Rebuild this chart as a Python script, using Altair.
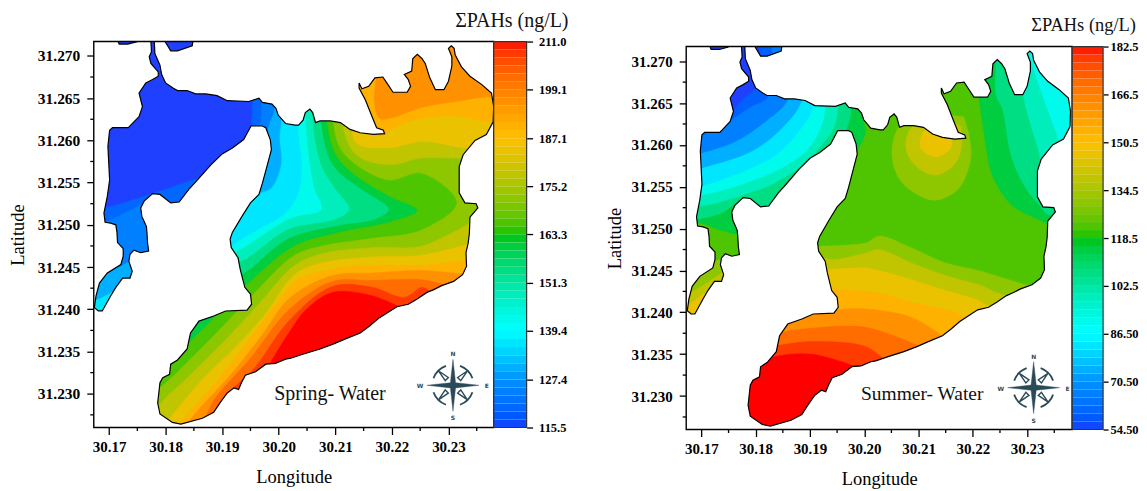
import altair as alt
import pandas as pd

E, W, S, N = 30.25, 30.16, 31.222, 31.275

lake_main = [
 (30.1780,31.2717),(30.1781,31.2703),(30.1790,31.2689),(30.1793,31.2678),(30.1800,31.2668),(30.1813,31.2662),(30.1821,31.2659),
 (30.1838,31.2659),(30.1853,31.2655),(30.1871,31.2655),(30.1891,31.2653),(30.1909,31.2647),(30.1947,31.2646),(30.1965,31.2650),
 (30.1971,31.2645),(30.1988,31.2643),(30.1995,31.2638),(30.1999,31.2630),(30.2012,31.2620),(30.2029,31.2618),(30.2035,31.2618),
 (30.2043,31.2624),(30.2047,31.2633),(30.2055,31.2637),(30.2060,31.2633),(30.2065,31.2621),(30.2073,31.2623),(30.2091,31.2623),
 (30.2109,31.2621),(30.2126,31.2613),(30.2144,31.2609),(30.2167,31.2607),(30.2187,31.2608),(30.2185,31.2612),(30.2173,31.2615),
 (30.2165,31.2628),(30.2153,31.2648),(30.2142,31.2662),(30.2142,31.2668),(30.2147,31.2661),(30.2159,31.2664),(30.2170,31.2674),
 (30.2184,31.2675),(30.2191,31.2668),(30.2202,31.2657),(30.2227,31.2657),(30.2233,31.2664),(30.2229,31.2672),(30.2222,31.2678),
 (30.2235,31.2682),(30.2237,31.2697),(30.2245,31.2702),(30.2253,31.2697),(30.2259,31.2691),(30.2267,31.2674),(30.2277,31.2660),
 (30.2292,31.2660),(30.2300,31.2670),(30.2306,31.2688),(30.2306,31.2699),(30.2300,31.2709),(30.2305,31.2712),(30.2310,31.2709),
 (30.2312,31.2701),(30.2323,31.2687),(30.2338,31.2676),(30.2359,31.2666),(30.2376,31.2656),(30.2380,31.2640),(30.2379,31.2622),
 (30.2367,31.2607),(30.2347,31.2600),(30.2326,31.2583),(30.2319,31.2569),(30.2319,31.2538),(30.2329,31.2526),(30.2349,31.2525),
 (30.2352,31.2520),(30.2338,31.2509),(30.2337,31.2490),(30.2335,31.2479),(30.2331,31.2467),(30.2332,31.2451),(30.2325,31.2441),
 (30.2309,31.2433),(30.2288,31.2428),(30.2273,31.2423),(30.2262,31.2420),(30.2244,31.2412),(30.2229,31.2406),(30.2209,31.2403),
 (30.2197,31.2398),(30.2176,31.2389),(30.2160,31.2380),(30.2144,31.2372),(30.2118,31.2365),(30.2097,31.2359),(30.2073,31.2353),
 (30.2044,31.2347),(30.2021,31.2342),(30.2012,31.2341),(30.1994,31.2336),(30.1977,31.2335),(30.1959,31.2326),(30.1941,31.2322),
 (30.1934,31.2313),(30.1929,31.2305),(30.1921,31.2307),(30.1909,31.2301),(30.1897,31.2290),(30.1885,31.2278),(30.1865,31.2271),
 (30.1827,31.2264),(30.1812,31.2266),(30.1790,31.2276),(30.1786,31.2289),(30.1790,31.2313),(30.1795,31.2319),(30.1807,31.2323),
 (30.1809,31.2335),(30.1821,31.2340),(30.1838,31.2353),(30.1844,31.2372),(30.1859,31.2386),(30.1885,31.2392),(30.1906,31.2398),
 (30.1944,31.2399),(30.1952,31.2406),(30.1950,31.2418),(30.1940,31.2426),(30.1932,31.2447),(30.1928,31.2461),(30.1916,31.2473),
 (30.1914,31.2483),(30.1918,31.2491),(30.1935,31.2510),(30.1950,31.2526),(30.1965,31.2536),(30.1971,31.2549),(30.1979,31.2569),
 (30.1987,31.2589),(30.1985,31.2601),(30.1977,31.2615),(30.1971,31.2617),(30.1951,31.2617),(30.1938,31.2601),(30.1918,31.2591),
 (30.1900,31.2584),(30.1880,31.2571),(30.1856,31.2553),(30.1841,31.2542),(30.1824,31.2527),(30.1809,31.2526),(30.1790,31.2536),
 (30.1777,31.2537),(30.1762,31.2528),(30.1756,31.2520),(30.1758,31.2510),(30.1766,31.2498),(30.1767,31.2491),(30.1768,31.2479),
 (30.1770,31.2469),(30.1756,31.2467),(30.1744,31.2470),(30.1737,31.2465),(30.1735,31.2457),(30.1741,31.2445),(30.1737,31.2437),
 (30.1724,31.2437),(30.1712,31.2426),(30.1703,31.2416),(30.1688,31.2398),(30.1681,31.2398),(30.1674,31.2402),(30.1677,31.2416),
 (30.1683,31.2431),(30.1697,31.2443),(30.1721,31.2453),(30.1725,31.2463),(30.1725,31.2472),(30.1715,31.2479),(30.1714,31.2491),
 (30.1712,31.2500),(30.1703,31.2502),(30.1693,31.2503),(30.1691,31.2514),(30.1697,31.2534),(30.1701,31.2553),(30.1698,31.2593),
 (30.1701,31.2612),(30.1706,31.2615),(30.1734,31.2615),(30.1753,31.2628),(30.1759,31.2640),(30.1753,31.2656),(30.1765,31.2668),
 (30.1777,31.2672),(30.1787,31.2676),(30.1787,31.2681),(30.1774,31.2691),(30.1771,31.2699),(30.1775,31.2705),(30.1774,31.2717),
]
lake_blob_a = [(30.1750,31.2717),(30.1733,31.2714),(30.1718,31.2714),(30.1716,31.2717)]
lake_blob_b = [(30.1848,31.2717),(30.1847,31.2712),(30.1821,31.2706),(30.1809,31.2706),(30.1799,31.2717)]

spring_bands = [
 (115.5,[(W,S),(W,N),(E,N),(E,S)]),
 (120.5,[(30.1954,N),(30.1954,31.2646),(30.1951,31.2617),(30.1940,31.2591),(30.1887,31.2532),(30.1808,31.2449),(30.1755,31.2390),(30.1720,31.2249),(E,S),(E,N)]),
 (120.5,[(30.1861,31.2556),(30.1694,31.2520),(30.1659,31.2517),(30.1650,31.2367),(30.1808,31.2390),(30.1861,31.2532)]),
 (124.4,[(30.1970,N),(30.1970,31.2645),(30.1967,31.2617),(30.1949,31.2591),(30.1887,31.2526),(30.1808,31.2443),(30.1755,31.2385),(30.1720,31.2249),(E,S),(E,N)]),
 (124.4,[(30.1773,31.2537),(30.1764,31.2528),(30.1690,31.2502),(30.1659,31.2493),(30.1650,31.2367),(30.1808,31.2390),(30.1808,31.2514)]),
 (130.4,[(30.1993,N),(30.1993,31.2638),(30.1984,31.2620),(30.1976,31.2603),(30.1949,31.2585),(30.1887,31.2520),(30.1808,31.2443),(30.1755,31.2385),(30.1720,31.2249),(E,S),(E,N)]),
 (130.4,[(30.1808,31.2485),(30.1773,31.2471),(30.1729,31.2454),(30.1676,31.2435),(30.1659,31.2428),(30.1650,31.2367),(30.1808,31.2379)]),
 (136.4,[(30.2005,N),(30.2005,31.2624),(30.2002,31.2603),(30.2005,31.2573),(30.1988,31.2544),(30.1970,31.2538),(30.1931,31.2526),(30.1887,31.2503),(30.1808,31.2437),(30.1755,31.2379),(30.1720,31.2249),(E,S),(E,N)]),
 (136.4,[(30.1773,31.2449),(30.1738,31.2432),(30.1694,31.2416),(30.1659,31.2402),(30.1650,31.2367),(30.1773,31.2367)]),
 (142.3,[(30.2034,N),(30.2034,31.2621),(30.2041,31.2567),(30.2035,31.2538),(30.2011,31.2513),(30.1963,31.2494),(30.1924,31.2478),(30.1905,31.2467),(30.1843,31.2414),(30.1755,31.2373),(30.1720,31.2249),(E,S),(E,N)]),
 (148.3,[(30.2048,N),(30.2048,31.2626),(30.2056,31.2570),(30.2063,31.2544),(30.2076,31.2518),(30.2019,31.2507),(30.1949,31.2477),(30.1917,31.2463),(30.1861,31.2414),(30.1764,31.2373),(30.1720,31.2249),(E,S),(E,N)]),
 (154.3,[(30.2060,N),(30.2060,31.2626),(30.2076,31.2570),(30.2099,31.2544),(30.2125,31.2518),(30.2099,31.2506),(30.2019,31.2495),(30.1949,31.2462),(30.1923,31.2452),(30.1879,31.2414),(30.1764,31.2367),(30.1720,31.2249),(E,S),(E,N)]),
 (160.3,[(30.2074,N),(30.2074,31.2626),(30.2097,31.2570),(30.2143,31.2544),(30.2195,31.2518),(30.2169,31.2506),(30.2107,31.2499),(30.2019,31.2484),(30.1949,31.2447),(30.1923,31.2435),(30.1887,31.2408),(30.1773,31.2367),(30.1720,31.2249),(E,S),(E,N)]),
 (166.2,[(30.2085,N),(30.2085,31.2626),(30.2102,31.2582),(30.2137,31.2558),(30.2195,31.2534),(30.2245,31.2517),(30.2195,31.2503),(30.2107,31.2491),(30.2028,31.2475),(30.1953,31.2435),(30.1865,31.2376),(30.1805,31.2337),(30.1773,31.2314),(30.1738,31.2249),(E,S),(E,N)]),
 (172.2,[(30.2095,N),(30.2095,31.2632),(30.2107,31.2593),(30.2137,31.2571),(30.2195,31.2553),(30.2253,31.2561),(30.2315,31.2526),(30.2253,31.2494),(30.2165,31.2484),(30.2077,31.2475),(30.2028,31.2464),(30.1958,31.2420),(30.1887,31.2370),(30.1817,31.2323),(30.1773,31.2294),(30.1747,31.2249),(E,S),(E,N)]),
 (178.2,[(30.2340,31.2503),(30.2253,31.2475),(30.2165,31.2473),(30.2077,31.2466),(30.2028,31.2452),(30.1967,31.2408),(30.1905,31.2363),(30.1843,31.2322),(30.1782,31.2281),(30.1764,31.2249),(E,S),(E,31.2503)]),
 (178.2,[(30.2113,N),(30.2113,31.2618),(30.2137,31.2583),(30.2195,31.2571),(30.2253,31.2579),(30.2324,31.2579),(30.2389,31.2582),(E,31.2582),(E,N)]),
 (184.1,[(30.2345,31.2479),(30.2253,31.2464),(30.2165,31.2462),(30.2077,31.2455),(30.2028,31.2441),(30.1975,31.2393),(30.1923,31.2355),(30.1861,31.2314),(30.1799,31.2263),(30.1782,31.2243),(E,S),(E,31.2479)]),
 (184.1,[(30.2129,N),(30.2129,31.2620),(30.2137,31.2597),(30.2195,31.2591),(30.2253,31.2599),(30.2331,31.2591),(30.2389,31.2593),(E,31.2593),(E,N)]),
 (190.1,[(30.2336,31.2458),(30.2253,31.2452),(30.2165,31.2452),(30.2107,31.2449),(30.2055,31.2441),(30.2028,31.2432),(30.1988,31.2400),(30.1953,31.2369),(30.1893,31.2317),(30.1826,31.2266),(30.1808,31.2249),(E,S),(E,31.2458)]),
 (190.1,[(30.2134,N),(30.2134,31.2679),(30.2157,31.2617),(30.2178,31.2605),(30.2208,31.2617),(30.2253,31.2626),(30.2313,31.2629),(30.2378,31.2621),(30.2407,31.2621),(E,31.2621),(E,N)]),
 (196.1,[(30.2322,31.2442),(30.2253,31.2446),(30.2165,31.2443),(30.2095,31.2440),(30.2019,31.2413),(30.1970,31.2369),(30.1917,31.2324),(30.1847,31.2272),(30.1826,31.2249),(E,S),(E,31.2442)]),
 (196.1,[(30.2174,N),(30.2174,31.2685),(30.2169,31.2648),(30.2178,31.2626),(30.2195,31.2626),(30.2253,31.2639),(30.2313,31.2646),(30.2375,31.2652),(E,31.2652),(E,N)]),
 (202.0,[(30.2292,31.2429),(30.2253,31.2435),(30.2165,31.2434),(30.2095,31.2433),(30.2019,31.2400),(30.1949,31.2341),(30.1887,31.2294),(30.1870,31.2272),(30.1843,31.2243),(E,S),(E,31.2429)]),
 (208.0,[(30.2266,31.2422),(30.2253,31.2426),(30.2222,31.2414),(30.2165,31.2426),(30.2095,31.2427),(30.2019,31.2387),(30.1958,31.2331),(30.1905,31.2294),(30.1887,31.2243),(E,S),(E,31.2422)]),
 (211.0,[(30.2222,31.2400),(30.2165,31.2416),(30.2095,31.2420),(30.2049,31.2400),(30.2019,31.2373),(30.1981,31.2331),(30.1958,31.2296),(30.1932,31.2243),(E,S),(E,31.2400)]),
]

summer_bands = [
 (54.5,[(W,S),(W,N),(E,N),(E,S)]),
 (60.0,[(30.1803,N),(30.1803,31.2673),(30.1770,31.2650),(30.1736,31.2626),(30.1696,31.2626),(30.1659,31.2626),(W,31.2626),(W,S),(E,S),(E,N)]),
 (66.5,[(30.1825,N),(30.1825,31.2659),(30.1788,31.2644),(30.1746,31.2626),(30.1696,31.2610),(30.1668,31.2604),(W,31.2604),(W,S),(E,S),(E,N)]),
 (74.5,[(30.1861,N),(30.1861,31.2656),(30.1819,31.2628),(30.1764,31.2604),(30.1702,31.2590),(30.1668,31.2584),(W,31.2584),(W,S),(E,S),(E,N)]),
 (82.5,[(30.1885,N),(30.1885,31.2653),(30.1849,31.2620),(30.1793,31.2592),(30.1702,31.2572),(30.1668,31.2566),(W,31.2566),(W,S),(E,S),(E,N)]),
 (90.5,[(30.1907,N),(30.1907,31.2647),(30.1880,31.2616),(30.1838,31.2588),(30.1782,31.2569),(30.1709,31.2552),(30.1668,31.2546),(W,31.2546),(W,S),(E,S),(E,N)]),
 (98.5,[(30.1929,N),(30.1929,31.2646),(30.1922,31.2623),(30.1893,31.2592),(30.1843,31.2570),(30.1782,31.2554),(30.1733,31.2544),(30.1696,31.2539),(30.1668,31.2534),(W,31.2534),(W,S),(E,S),(E,31.2604),(30.2361,31.2604),(30.2352,31.2616),(30.2336,31.2644),(30.2315,31.2683),(30.2303,31.2711),(30.2303,N)]),
 (106.5,[(30.1953,N),(30.1953,31.2647),(30.1944,31.2620),(30.1917,31.2596),(30.1880,31.2572),(30.1825,31.2551),(30.1782,31.2541),(30.1733,31.2531),(30.1687,31.2525),(30.1668,31.2522),(W,31.2522),(W,S),(E,S),(E,31.2581),(30.2326,31.2581),(30.2321,31.2592),(30.2297,31.2644),(30.2290,31.2664),(30.2288,31.2667),(30.2288,N)]),
 (114.5,[(30.1977,N),(30.1977,31.2646),(30.1972,31.2626),(30.1962,31.2611),(30.1950,31.2596),(30.1880,31.2548),(30.1825,31.2519),(30.1779,31.2533),(30.1733,31.2517),(30.1687,31.2510),(30.1659,31.2507),(W,31.2507),(W,S),(E,S),(E,31.2516),(30.2339,31.2516),(30.2326,31.2525),(30.2297,31.2548),(30.2271,31.2584),(30.2253,31.2644),(30.2242,31.2659),(30.2242,31.2703),(30.2242,N)]),
 (122.5,[(30.1996,N),(30.1996,31.2646),(30.1996,31.2635),(30.2003,31.2616),(30.1990,31.2596),(30.1953,31.2566),(30.1825,31.2489),(30.1779,31.2491),(30.1738,31.2497),(30.1696,31.2506),(30.1659,31.2503),(W,31.2503),(W,S),(E,S),(E,31.2504),(30.2343,31.2504),(30.2326,31.2509),(30.2271,31.2528),(30.2235,31.2564),(30.2224,31.2596),(30.2216,31.2632),(30.2211,31.2656),(30.2211,31.2673),(30.2211,N)]),
 (130.5,[(30.2128,31.2638),(30.2069,31.2626),(30.2051,31.2592),(30.2064,31.2560),(30.2100,31.2540),(30.2132,31.2534),(30.2174,31.2548),(30.2196,31.2584),(30.2192,31.2614),(30.2183,31.2634)]),
 (130.5,[(30.1917,31.2479),(30.2003,31.2483),(30.2027,31.2491),(30.2087,31.2477),(30.2150,31.2459),(30.2211,31.2450),(30.2271,31.2438),(30.2308,31.2432),(E,31.2432),(E,S),(30.1733,31.2245),(30.1806,31.2382),(30.1898,31.2441)]),
 (130.5,[(30.1779,31.2471),(30.1733,31.2463),(30.1696,31.2451),(30.1659,31.2439),(30.1632,31.2358),(30.1788,31.2382)]),
 (138.5,[(30.2128,31.2644),(30.2082,31.2616),(30.2078,31.2592),(30.2100,31.2572),(30.2132,31.2564),(30.2165,31.2576),(30.2179,31.2596),(30.2178,31.2622)]),
 (138.5,[(30.1926,31.2465),(30.1944,31.2463),(30.2003,31.2471),(30.2027,31.2475),(30.2087,31.2459),(30.2150,31.2444),(30.2211,31.2433),(30.2262,31.2420),(E,31.2420),(E,S),(30.1733,31.2245),(30.1806,31.2382),(30.1898,31.2435)]),
 (138.5,[(30.1751,31.2453),(30.1696,31.2429),(30.1659,31.2414),(30.1632,31.2358),(30.1779,31.2370)]),
 (146.5,[(30.2132,31.2638),(30.2106,31.2611),(30.2104,31.2596),(30.2132,31.2586),(30.2159,31.2596),(30.2161,31.2614)]),
 (146.5,[(30.1931,31.2451),(30.2003,31.2453),(30.2027,31.2450),(30.2087,31.2439),(30.2150,31.2426),(30.2211,31.2414),(30.2235,31.2406),(E,31.2406),(E,S),(30.1733,31.2245),(30.1806,31.2382),(30.1898,31.2429)]),
 (146.5,[(30.1705,31.2423),(30.1678,31.2409),(30.1650,31.2394),(30.1632,31.2358),(30.1770,31.2364)]),
 (154.5,[(30.1944,31.2427),(30.2027,31.2423),(30.2087,31.2412),(30.2168,31.2400),(30.2179,31.2396),(E,31.2396),(E,S),(30.1733,31.2245),(30.1806,31.2382),(30.1898,31.2417)]),
 (162.5,[(30.2143,31.2372),(30.2087,31.2394),(30.2003,31.2404),(30.1953,31.2403),(30.1904,31.2396),(30.1874,31.2391),(30.1852,31.2388),(30.1806,31.2382),(30.1733,31.2245),(E,S),(E,31.2372)]),
 (170.5,[(30.2100,31.2360),(30.2003,31.2382),(30.1904,31.2381),(30.1847,31.2376),(30.1815,31.2370),(30.1770,31.2358),(30.1733,31.2245),(E,S),(E,31.2360)]),
 (178.5,[(30.2036,31.2344),(30.2003,31.2359),(30.1904,31.2365),(30.1839,31.2360),(30.1806,31.2356),(30.1760,31.2346),(30.1733,31.2245),(E,S),(E,31.2344)]),
 (182.5,[(30.1977,31.2337),(30.1904,31.2350),(30.1843,31.2348),(30.1806,31.2340),(30.1760,31.2328),(30.1733,31.2245),(E,S),(E,31.2337)]),
]

spring_ticks = [115.5, 127.4, 139.4, 151.3, 163.3, 175.2, 187.1, 199.1, 211.0]
summer_ticks = [54.5, 70.5, 86.5, 102.5, 118.5, 134.5, 150.5, 166.5, 182.5]
lon_major = [30.17, 30.18, 30.19, 30.20, 30.21, 30.22, 30.23]
lon_minor = [30.175, 30.185, 30.195, 30.205, 30.215, 30.225, 30.235]
lat_major = [31.23, 31.235, 31.24, 31.245, 31.25, 31.255, 31.26, 31.265, 31.27]
lat_minor = [31.2275, 31.2325, 31.2375, 31.2425, 31.2475, 31.2525, 31.2575, 31.2625, 31.2675]
RAMP = ["#2040ff", "#1a90ff", "#1affff", "#00c400", "#ffc000", "#ff0000"]
SERIF = "Liberation Serif"
INK = "#2b4a58"
STAR = "M0,-1L.1,-.1L1,0L.1,.1L0,1L-.1,.1L-1,0L-.1,-.1Z"
KITES = "M.18,-.3L.55,-.55L.3,-.18Z M.18,.3L.55,.55L.3,.18Z M-.18,.3L-.55,.55L-.3,.18Z M-.18,-.3L-.55,-.55L-.3,-.18Z"
RING = "M.27,-.75A.8,.8 0 0 1 .75,-.27 M.75,.27A.8,.8 0 0 1 .27,.75 M-.27,.75A.8,.8 0 0 1 -.75,.27 M-.75,-.27A.8,.8 0 0 1 -.27,-.75"


def table(paths):
    rows = []
    for p, (v, pts) in enumerate(paths):
        for i, (lon, lat) in enumerate(pts):
            rows.append({"lon": lon, "lat": lat, "v": v, "poly": p, "i": i})
    return pd.DataFrame(rows)


def panel(bands, ticks, xdom, ydom, w, h, top, label, label_lon, label_lat, label_size, comp_lon, comp_lat, lab_size, title_pad):
    xs = alt.Scale(domain=xdom, nice=False, zero=False)
    ys = alt.Scale(domain=ydom, nice=False, zero=False, range=[h + top, top])
    anchors = [ticks[0], ticks[1], ticks[2], ticks[4], ticks[6], ticks[8]]
    cs = alt.Scale(domain=anchors, range=RAMP, clamp=True)
    xa = alt.Axis(values=lon_major, format=".2f", grid=False, domain=False, tickColor="black", tickWidth=1.3, tickSize=7,
                  labelFont=SERIF, labelFontWeight="bold", labelFontSize=15, labelColor="black", labelPadding=5, labelOverlap=False,
                  title="Longitude", titleFont=SERIF, titleFontWeight="normal", titleFontSize=18.5, titleColor="black", titlePadding=13)
    ya = alt.Axis(values=lat_major, format=".3f", grid=False, domain=False, tickColor="black", tickWidth=1.3, tickSize=7,
                  labelFont=SERIF, labelFontWeight="bold", labelFontSize=lab_size, labelColor="black", labelPadding=7, labelOverlap=False,
                  title="Latitude", titleFont=SERIF, titleFontWeight="normal", titleFontSize=18.5, titleColor="black", titlePadding=title_pad)
    X = alt.X("lon:Q", scale=xs, axis=xa)
    Y = alt.Y("lat:Q", scale=ys, axis=ya)

    fill_layer = alt.Chart(table(bands)).mark_line(interpolate="catmull-rom", clip=True, strokeWidth=0.5).encode(
        x=X, y=Y, order="i:Q", detail="poly:N",
        fill=alt.Fill("v:Q", scale=cs, legend=None), stroke=alt.Stroke("v:Q", scale=cs, legend=None))

    TOPOUT = 31.28
    mask_pts = ([(30.26, TOPOUT), (lake_blob_b[0][0], TOPOUT)] + lake_blob_b + [(lake_blob_b[-1][0], TOPOUT),
                (lake_main[0][0], TOPOUT)] + lake_main + [(lake_main[-1][0], TOPOUT), (lake_blob_a[0][0], TOPOUT)] +
                lake_blob_a + [(lake_blob_a[-1][0], TOPOUT), (30.15, TOPOUT), (30.15, 31.21), (30.26, 31.21)])
    mask = alt.Chart(table([(0, mask_pts)])).mark_line(interpolate="linear", clip=True, strokeWidth=0).encode(
        x=X, y=Y, order="i:Q", fill=alt.value("white"))
    strip = alt.Chart(pd.DataFrame({"a": [0]})).mark_rect(fill="white", stroke=None).encode(
        x=alt.value(-1), x2=alt.value(w + 1), y=alt.value(-1), y2=alt.value(top))
    shore = alt.Chart(table([(0, lake_main), (1, lake_blob_a), (2, lake_blob_b)])).mark_line(
        interpolate="linear", clip=True, strokeWidth=1.2, color="black").encode(x=X, y=Y, order="i:Q", detail="poly:N")

    tx = alt.Chart(pd.DataFrame({"lon": lon_minor})).mark_rule(color="black", strokeWidth=1.3).encode(
        x=X, y=alt.value(h + top), y2=alt.value(h + top + 3.5))
    ty = alt.Chart(pd.DataFrame({"lat": lat_minor})).mark_rule(color="black", strokeWidth=1.3).encode(
        y=Y, x=alt.value(-3.5), x2=alt.value(0))
    frame = alt.Chart(pd.DataFrame({"a": [0]})).mark_rect(filled=False, stroke="black", strokeWidth=1.4).encode(
        x=alt.value(0), x2=alt.value(w), y=alt.value(top), y2=alt.value(h + top))
    text = alt.Chart(pd.DataFrame({"lon": [label_lon], "lat": [label_lat], "t": [label]})).mark_text(
        font=SERIF, fontSize=label_size, align="left", baseline="alphabetic", color="#111").encode(x=X, y=Y, text="t:N")
    c = pd.DataFrame({"lon": [comp_lon], "lat": [comp_lat]})
    star = alt.Chart(c).mark_point(shape=STAR, size=2704, filled=True, fill=INK, stroke=INK, strokeWidth=0.4, opacity=1).encode(x=X, y=Y)
    kites = alt.Chart(c).mark_point(shape=KITES, size=2704, filled=False, stroke=INK, strokeWidth=1.4, opacity=1).encode(x=X, y=Y)
    ring = alt.Chart(c).mark_point(shape=RING, size=2704, filled=False, stroke=INK, strokeWidth=1.8, opacity=1).encode(x=X, y=Y)
    letters = []
    for t, dx, dy in [("N", 0, -31), ("S", 0, 33), ("W", -33, 1), ("E", 34, 1)]:
        letters.append(alt.Chart(c).mark_text(text=t, fontSize=6, fontWeight="bold", font="DejaVu Sans", color=INK, dx=dx, dy=dy).encode(x=X, y=Y))
    main = alt.layer(fill_layer, mask, strip, shore, tx, ty, text, ring, kites, star, *letters, frame).properties(width=w, height=h + top)
    return main, cs


def colorbar(ticks, cs, w, h, top, title, title_x, title_y, title_size, tick_size, lab_pad):
    low, high, mid = [], [], []
    for a, b in zip(ticks[:-1], ticks[1:]):
        step = (b - a) / 6
        for k in range(6):
            low.append(a + k * step)
            high.append(a + (k + 1) * step)
            mid.append(a + (k + 0.5) * step)
    ys = alt.Scale(domain=[ticks[0], ticks[-1]], nice=False, zero=False, range=[h + top, top])
    axis = alt.Axis(values=ticks, format=".4r", orient="right", grid=False, domain=False, tickColor="black", tickWidth=1.3, tickSize=tick_size,
                    labelFont=SERIF, labelFontWeight="bold", labelFontSize=12.5, labelColor="black", labelPadding=lab_pad, labelOverlap=False,
                    labelFlush=False, title=None)
    bar = alt.Chart(pd.DataFrame({"a": low, "b": high, "m": mid})).mark_rect().encode(
        y=alt.Y("a:Q", scale=ys, axis=axis), y2="b:Q", x=alt.value(0), x2=alt.value(w),
        fill=alt.Fill("m:Q", scale=cs, legend=None))
    box = alt.Chart(pd.DataFrame({"a": [0]})).mark_rect(filled=False, stroke="#333", strokeWidth=1.2).encode(
        x=alt.value(0), x2=alt.value(w), y=alt.value(top), y2=alt.value(h + top))
    head = alt.Chart(pd.DataFrame({"a": [0]})).mark_text(text=title, font=SERIF, fontSize=title_size, align="right",
                                                         baseline="alphabetic", color="#111").encode(x=alt.value(title_x), y=alt.value(title_y))
    return alt.layer(bar, box, head).properties(width=w, height=h + top)


m1, c1 = panel(spring_bands, spring_ticks, [30.1673, 30.2380], [31.2260, 31.2717], 401, 387, 0,
               "Spring- Water", 30.1992, 31.2293, 20, 30.2308, 31.2310, 15.5, 10)
b1 = colorbar(spring_ticks, c1, 33, 387, 0, "ΣPAHs (ng/L)", 75, -15, 20, 6, 6)
m2, c2 = panel(summer_bands, summer_ticks, [30.1672, 30.2383], [31.2260, 31.27175], 387, 384, 5,
               "Summer- Water", 30.1994, 31.2295, 19.5, 30.2312, 31.2310, 15, 7)
b2 = colorbar(summer_ticks, c2, 31, 384, 5, "ΣPAHs (ng/L)", 64, -11, 18.5, 5, 2)

gap = alt.Chart(pd.DataFrame({"a": [0]})).mark_point(opacity=0).encode(x=alt.value(0), y=alt.value(0)).properties(width=160, height=5)
chart = alt.hconcat(m1, b1, gap, m2, b2, spacing=0, bounds="flush").resolve_scale(
    fill="independent", stroke="independent").configure_view(stroke=None).properties(
    padding={"left": 0, "top": 2, "right": 0, "bottom": 0})

chart.save("out.html", embed_options={"renderer": "svg", "actions": False})
